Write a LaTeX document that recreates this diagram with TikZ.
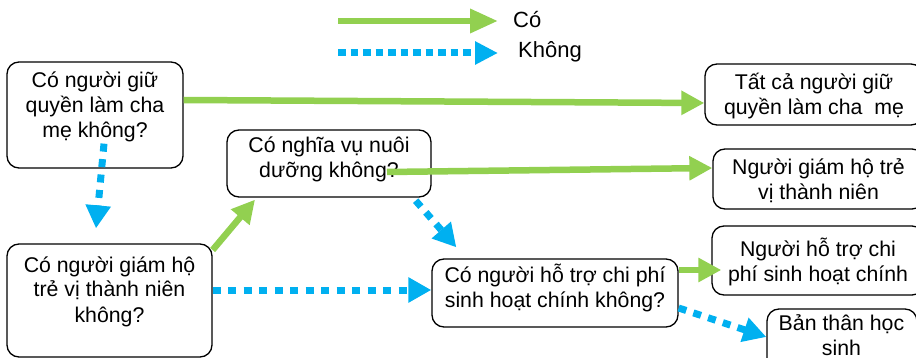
\documentclass[tikz,border=0pt]{standalone}
\usepackage{fontspec}
\setmainfont{Liberation Sans}
\usetikzlibrary{arrows.meta}
\definecolor{yesgreen}{HTML}{92D050}
\definecolor{noblue}{HTML}{00B0F0}
\begin{document}
\begin{tikzpicture}[x=1pt,y=-1pt,
 box/.style={draw=black, line width=1.3pt, rounded corners=12pt, inner sep=0pt},
 txt/.style={align=center, font=\fontsize{21.3}{25}\selectfont, inner sep=0pt, anchor=base},
 legtxt/.style={font=\fontsize{22}{26}\selectfont, inner sep=0pt, anchor=base west},
 yes/.style={draw=yesgreen, line width=6.5pt, -{Triangle[length=23pt,width=23pt]}},
 no/.style={draw=noblue, line width=7pt, dash pattern=on 8pt off 7.5pt, -{Triangle[length=23pt,width=24pt]}},
]
\useasboundingbox (0,0) rectangle (916,358);
\clip (0,0) rectangle (916,358);

% legend
\coordinate (l1s) at (338,21);
\coordinate (l1e) at (498,21);
\coordinate (l2s) at (338,53);
\coordinate (l2e) at (498,53);
\draw[yes, -{Triangle[length=28pt,width=23pt]}] (l1s) -- (l1e);
\draw[no, dash pattern=on 7.5pt off 5pt, -{Triangle[length=23pt,width=22pt]}] (l2s) -- (l2e);
\node[legtxt] (lyes) at (513,28) {Có};
\node[legtxt] (lno) at (518,58) {Không};

% boxes
\node[box, minimum width=176pt, minimum height=106pt] (A) at (95,115) {};
\node[box, minimum width=205pt, minimum height=113pt] (B) at (109.5,300.5) {};
\node[box, minimum width=204pt, minimum height=67pt] (C) at (329,163.5) {};
\node[box, minimum width=246pt, minimum height=68pt] (D) at (555,293) {};
\node[box, minimum width=218pt, minimum height=61pt] (E) at (814,94.5) {};
\node[box, minimum width=211pt, minimum height=60pt] (F) at (818.5,179) {};
\node[box, minimum width=212pt, minimum height=69pt] (G) at (818,260.5) {};
\node[box, minimum width=150pt, minimum height=64pt] (H) at (842,341) {};

% texts (base anchor = baseline of last line)
\node[txt] (At) at (95,138) {Có người giữ\\quyền làm cha\\mẹ không?};
\node[txt] (Bt) at (109.5,322) {Có người giám hộ\\trẻ vị thành niên\\không?};
\node[txt] (Ct) at (329,178) {Có nghĩa vụ nuôi\\dưỡng không?};
\node[txt] (Dt) at (555,308) {Có người hỗ trợ chi phí\\sinh hoạt chính không?};
\node[txt] (Et) at (814,115) {Tất cả người giữ\\quyền làm cha\ \ mẹ};
\node[txt] (Ft) at (818.5,200) {Người giám hộ trẻ\\vị thành niên};
\node[txt] (Gt) at (818,282) {Người hỗ trợ chi\\phí sinh hoạt chính};
\node[txt] (Ht) at (841.5,355) {Bản thân học\\sinh};

% connectors
\draw[yes] ([yshift=15pt]A.east) -- ([yshift=-8.5pt]E.west);
\draw[yes] ([xshift=58pt,yshift=-8.5pt]C.center) -- ([yshift=11pt]F.west);
\draw[yes] ([yshift=50.5pt]B.east) -- ([xshift=-74pt,yshift=-2pt]C.south);
\draw[yes] ([yshift=23pt]D.east) -- ([xshift=10pt,yshift=-9.5pt]G.west);
\draw[no] ([xshift=9pt,yshift=25pt]A.south) -- ([xshift=-13.5pt,yshift=15pt]B.north);
\draw[no] ([xshift=-16pt,yshift=-3pt]C.south east) -- ([xshift=25pt,yshift=11pt]D.north west);
\draw[no] ([yshift=10.5pt]B.east) -- ([yshift=3pt]D.west);
\draw[no] ([yshift=-15pt]D.east) -- ([yshift=4pt]H.west);
\end{tikzpicture}
\end{document}
